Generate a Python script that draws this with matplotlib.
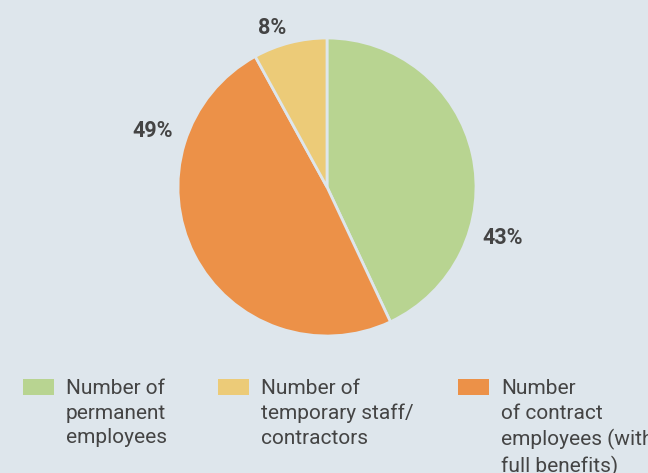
import matplotlib.pyplot as plt
from matplotlib.patches import Rectangle

categories = ["Number of\npermanent\nemployees",
              "Number of\ntemporary staff/\ncontractors",
              "Number\nof contract\nemployees (with\nfull benefits)"]
shares = [43, 8, 49]
colors = ["#b8d491", "#eccb78", "#ec9148"]

# pie order (clockwise from top): permanent, contract, temporary
pie_order = [0, 2, 1]
# label spots in pie units (hand placed like the original)
label_pos = {0: (1.18, -0.34), 1: (-0.367, 1.065), 2: (-1.17, 0.376)}

bg = "#dee6ec"
txt = "#444444"
plt.rcParams['font.family'] = ['Roboto', 'DejaVu Sans']

W, H = 648, 473
fig = plt.figure(figsize=(W / 100, H / 100), dpi=100, facecolor=bg)
cx, cy, r = 327, 187, 149
ax = fig.add_axes([(cx - r) / W, (H - cy - r) / H, 2 * r / W, 2 * r / H])
ax.set_facecolor(bg)
ax.axis('off')

ax.pie([shares[i] for i in pie_order], colors=[colors[i] for i in pie_order],
       startangle=90, counterclock=False, radius=1,
       wedgeprops=dict(edgecolor=bg, linewidth=2))
ax.set_xlim(-1, 1)
ax.set_ylim(-1, 1)

for i, (x, y) in label_pos.items():
    ax.text(x, y, f"{shares[i]}%", ha='center', va='center', fontsize=15.5,
            fontweight='bold', color=txt, clip_on=False)

# legend drawn by hand so the patch sits at the top of the wrapped text
box_x = [23, 218, 458]
for i, lab in enumerate(categories):
    x0 = box_x[i]
    fig.patches.append(Rectangle((x0 / W, (H - 395) / H), 31 / W, 16 / H,
                                 transform=fig.transFigure, facecolor=colors[i],
                                 edgecolor='none'))
    fig.text((x0 + 43) / W, (H - 379) / H, lab, ha='left', va='top',
             fontsize=15, color=txt, linespacing=1.37)

fig.savefig("out.png", dpi=100, facecolor=bg)
